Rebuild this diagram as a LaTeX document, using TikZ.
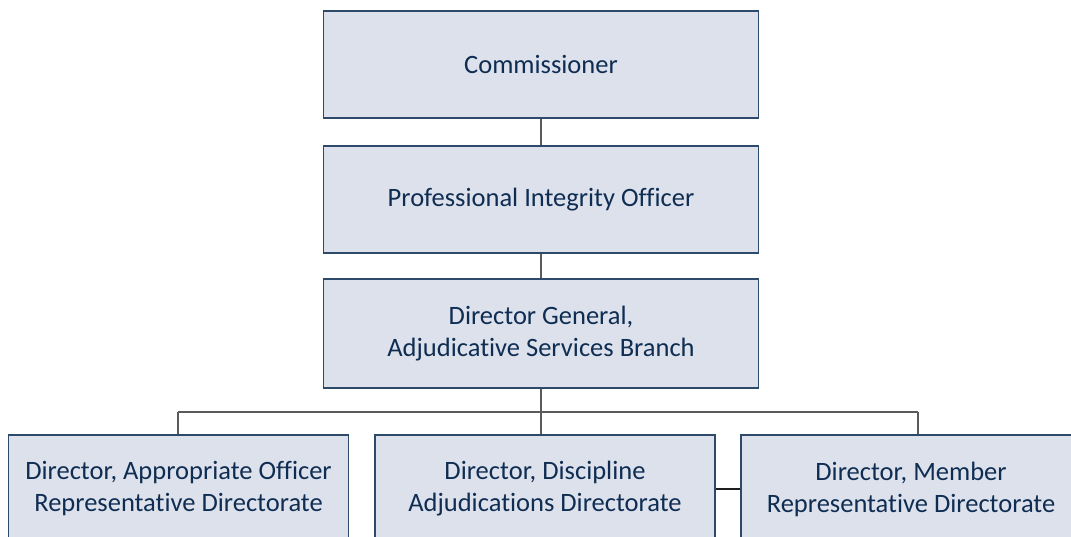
\documentclass[tikz,border=0pt]{standalone}
\usepackage{fontspec}
\setmainfont{Carlito}[Ligatures={NoCommon}]
\definecolor{boxfill}{HTML}{DCE1EB}
\definecolor{boxline}{HTML}{2E4A6B}
\definecolor{boxtext}{HTML}{0F2D52}
\definecolor{treeline}{HTML}{5A5A5A}
\definecolor{sideline}{HTML}{1E1E1E}
\begin{document}
\begin{tikzpicture}[x=1pt,y=-1pt,
  orgbox/.style={draw=boxline, fill=boxfill, line width=1.2pt,
    minimum height=107pt, inner sep=0pt, text=boxtext, align=center,
    font=\fontsize{26.5}{32}\selectfont},
  topbox/.style={orgbox, minimum width=435pt},
  unitbox/.style={orgbox, minimum width=340pt, minimum height=108pt},
  tree/.style={draw=treeline, line width=1.3pt},
  sidelink/.style={draw=sideline, line width=1.3pt}]
\useasboundingbox (0,0) rectangle (1071,537);
\clip (0,0) rectangle (1071,537);

% reporting chain
\node[topbox] (comm) at (541,64.5) {Commissioner};
\node[topbox] (pio) at (541,199.5) {Professional Integrity Officer};
\node[topbox, minimum height=109pt] (dg) at (541,333.5) {Director General,\\Adjudicative Services Branch};

% directorates
\node[unitbox] (ao) at (178.5,489) {Director, Appropriate Officer\\Representative Directorate};
\node[unitbox] (da) at (545,489) {Director, Discipline\\Adjudications Directorate};
\node[unitbox] (mr) at (911,489) {Director, Member\\Representative Directorate};

% bus feeding the directorates
\coordinate (busL) at (178,412);
\coordinate (busR) at (918,412);

\draw[tree] (comm) -- (pio);
\draw[tree] (pio) -- (dg);
\draw[tree] (dg.south) -- (dg.south |- da.north);
\draw[tree] (busL) -- (busR);
\draw[tree] (busL) -- (busL |- ao.north);
\draw[tree] (busR) -- (busR |- mr.north);
\draw[sidelink] (da.east) -- (mr.west);
\end{tikzpicture}
\end{document}
